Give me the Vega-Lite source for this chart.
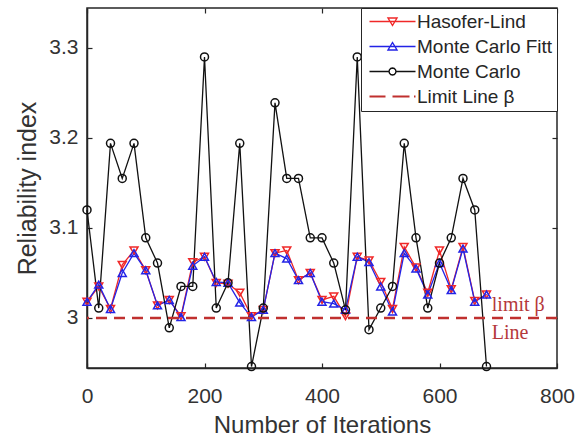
{
  "$schema": "https://vega.github.io/schema/vega-lite/v6.json",
  "width": 470,
  "height": 360,
  "autosize": {"type": "none"},
  "padding": {"left": 87, "top": 8, "right": 26, "bottom": 73},
  "background": "white",
  "datasets": {
    "series": [
      {"iter": 0, "series": "Hasofer-Lind", "value": 3.018},
      {"iter": 20, "series": "Hasofer-Lind", "value": 3.035},
      {"iter": 40, "series": "Hasofer-Lind", "value": 3.010},
      {"iter": 60, "series": "Hasofer-Lind", "value": 3.059},
      {"iter": 80, "series": "Hasofer-Lind", "value": 3.075},
      {"iter": 100, "series": "Hasofer-Lind", "value": 3.053},
      {"iter": 120, "series": "Hasofer-Lind", "value": 3.014},
      {"iter": 140, "series": "Hasofer-Lind", "value": 3.020},
      {"iter": 160, "series": "Hasofer-Lind", "value": 3.002},
      {"iter": 180, "series": "Hasofer-Lind", "value": 3.062},
      {"iter": 200, "series": "Hasofer-Lind", "value": 3.068},
      {"iter": 220, "series": "Hasofer-Lind", "value": 3.039},
      {"iter": 240, "series": "Hasofer-Lind", "value": 3.038},
      {"iter": 260, "series": "Hasofer-Lind", "value": 3.028},
      {"iter": 280, "series": "Hasofer-Lind", "value": 3.002},
      {"iter": 300, "series": "Hasofer-Lind", "value": 3.009},
      {"iter": 320, "series": "Hasofer-Lind", "value": 3.072},
      {"iter": 340, "series": "Hasofer-Lind", "value": 3.075},
      {"iter": 360, "series": "Hasofer-Lind", "value": 3.042},
      {"iter": 380, "series": "Hasofer-Lind", "value": 3.050},
      {"iter": 400, "series": "Hasofer-Lind", "value": 3.020},
      {"iter": 420, "series": "Hasofer-Lind", "value": 3.024},
      {"iter": 440, "series": "Hasofer-Lind", "value": 3.002},
      {"iter": 460, "series": "Hasofer-Lind", "value": 3.068},
      {"iter": 480, "series": "Hasofer-Lind", "value": 3.064},
      {"iter": 500, "series": "Hasofer-Lind", "value": 3.040},
      {"iter": 520, "series": "Hasofer-Lind", "value": 3.010},
      {"iter": 540, "series": "Hasofer-Lind", "value": 3.079},
      {"iter": 560, "series": "Hasofer-Lind", "value": 3.056},
      {"iter": 580, "series": "Hasofer-Lind", "value": 3.028},
      {"iter": 600, "series": "Hasofer-Lind", "value": 3.075},
      {"iter": 620, "series": "Hasofer-Lind", "value": 3.032},
      {"iter": 640, "series": "Hasofer-Lind", "value": 3.079},
      {"iter": 660, "series": "Hasofer-Lind", "value": 3.019},
      {"iter": 680, "series": "Hasofer-Lind", "value": 3.026},
      {"iter": 0, "series": "Monte Carlo Fitt", "value": 3.018},
      {"iter": 20, "series": "Monte Carlo Fitt", "value": 3.037},
      {"iter": 40, "series": "Monte Carlo Fitt", "value": 3.010},
      {"iter": 60, "series": "Monte Carlo Fitt", "value": 3.050},
      {"iter": 80, "series": "Monte Carlo Fitt", "value": 3.072},
      {"iter": 100, "series": "Monte Carlo Fitt", "value": 3.053},
      {"iter": 120, "series": "Monte Carlo Fitt", "value": 3.014},
      {"iter": 140, "series": "Monte Carlo Fitt", "value": 3.020},
      {"iter": 160, "series": "Monte Carlo Fitt", "value": 3.001},
      {"iter": 180, "series": "Monte Carlo Fitt", "value": 3.058},
      {"iter": 200, "series": "Monte Carlo Fitt", "value": 3.068},
      {"iter": 220, "series": "Monte Carlo Fitt", "value": 3.040},
      {"iter": 240, "series": "Monte Carlo Fitt", "value": 3.039},
      {"iter": 260, "series": "Monte Carlo Fitt", "value": 3.017},
      {"iter": 280, "series": "Monte Carlo Fitt", "value": 3.001},
      {"iter": 300, "series": "Monte Carlo Fitt", "value": 3.009},
      {"iter": 320, "series": "Monte Carlo Fitt", "value": 3.072},
      {"iter": 340, "series": "Monte Carlo Fitt", "value": 3.066},
      {"iter": 360, "series": "Monte Carlo Fitt", "value": 3.042},
      {"iter": 380, "series": "Monte Carlo Fitt", "value": 3.050},
      {"iter": 400, "series": "Monte Carlo Fitt", "value": 3.018},
      {"iter": 420, "series": "Monte Carlo Fitt", "value": 3.016},
      {"iter": 440, "series": "Monte Carlo Fitt", "value": 3.009},
      {"iter": 460, "series": "Monte Carlo Fitt", "value": 3.068},
      {"iter": 480, "series": "Monte Carlo Fitt", "value": 3.062},
      {"iter": 500, "series": "Monte Carlo Fitt", "value": 3.035},
      {"iter": 520, "series": "Monte Carlo Fitt", "value": 3.007},
      {"iter": 540, "series": "Monte Carlo Fitt", "value": 3.072},
      {"iter": 560, "series": "Monte Carlo Fitt", "value": 3.055},
      {"iter": 580, "series": "Monte Carlo Fitt", "value": 3.026},
      {"iter": 600, "series": "Monte Carlo Fitt", "value": 3.061},
      {"iter": 620, "series": "Monte Carlo Fitt", "value": 3.031},
      {"iter": 640, "series": "Monte Carlo Fitt", "value": 3.077},
      {"iter": 660, "series": "Monte Carlo Fitt", "value": 3.018},
      {"iter": 680, "series": "Monte Carlo Fitt", "value": 3.026},
      {"iter": 0, "series": "Monte Carlo", "value": 3.120},
      {"iter": 20, "series": "Monte Carlo", "value": 3.011},
      {"iter": 40, "series": "Monte Carlo", "value": 3.194},
      {"iter": 60, "series": "Monte Carlo", "value": 3.155},
      {"iter": 80, "series": "Monte Carlo", "value": 3.194},
      {"iter": 100, "series": "Monte Carlo", "value": 3.089},
      {"iter": 120, "series": "Monte Carlo", "value": 3.061},
      {"iter": 140, "series": "Monte Carlo", "value": 2.989},
      {"iter": 160, "series": "Monte Carlo", "value": 3.035},
      {"iter": 180, "series": "Monte Carlo", "value": 3.035},
      {"iter": 200, "series": "Monte Carlo", "value": 3.290},
      {"iter": 220, "series": "Monte Carlo", "value": 3.011},
      {"iter": 240, "series": "Monte Carlo", "value": 3.039},
      {"iter": 260, "series": "Monte Carlo", "value": 3.194},
      {"iter": 280, "series": "Monte Carlo", "value": 2.946},
      {"iter": 300, "series": "Monte Carlo", "value": 3.011},
      {"iter": 320, "series": "Monte Carlo", "value": 3.239},
      {"iter": 340, "series": "Monte Carlo", "value": 3.155},
      {"iter": 360, "series": "Monte Carlo", "value": 3.155},
      {"iter": 380, "series": "Monte Carlo", "value": 3.089},
      {"iter": 400, "series": "Monte Carlo", "value": 3.089},
      {"iter": 420, "series": "Monte Carlo", "value": 3.061},
      {"iter": 440, "series": "Monte Carlo", "value": 3.009},
      {"iter": 460, "series": "Monte Carlo", "value": 3.290},
      {"iter": 480, "series": "Monte Carlo", "value": 2.987},
      {"iter": 500, "series": "Monte Carlo", "value": 3.011},
      {"iter": 520, "series": "Monte Carlo", "value": 3.035},
      {"iter": 540, "series": "Monte Carlo", "value": 3.194},
      {"iter": 560, "series": "Monte Carlo", "value": 3.089},
      {"iter": 580, "series": "Monte Carlo", "value": 3.011},
      {"iter": 600, "series": "Monte Carlo", "value": 3.061},
      {"iter": 620, "series": "Monte Carlo", "value": 3.089},
      {"iter": 640, "series": "Monte Carlo", "value": 3.155},
      {"iter": 660, "series": "Monte Carlo", "value": 3.120},
      {"iter": 680, "series": "Monte Carlo", "value": 2.946}
    ],
    "notes": [
      {"iter": 689, "value": 3.0144, "label": "limit β"},
      {"iter": 689, "value": 2.983, "label": "Line"}
    ],
    "limit": [
      {"beta": 3, "series": "Limit Line β"}
    ]
  },
  "config": {
    "font": "Liberation Sans",
    "view": {"stroke": "#262626", "strokeWidth": 1.5},
    "axis": {
      "grid": false,
      "domainColor": "#262626",
      "domainWidth": 1.5,
      "tickColor": "#262626",
      "tickWidth": 1.2,
      "labelColor": "#333333",
      "titleColor": "#333333",
      "labelFont": "Liberation Sans",
      "titleFont": "Liberation Sans",
      "titleFontWeight": "normal"
    }
  },
  "resolve": {"axis": {"x": "independent", "y": "independent"}},
  "layer": [
    {
      "data": {"name": "series"},
      "mark": {"type": "line", "strokeWidth": 1.3},
      "encoding": {
        "x": {
          "field": "iter", "type": "quantitative",
          "scale": {"domain": [0, 800], "nice": false, "zero": false},
          "axis": {
            "orient": "bottom", "values": [0, 200, 400, 600, 800],
            "title": "Number of Iterations", "labelFontSize": 21, "titleFontSize": 24,
            "tickSize": -5, "labelPadding": 22, "titlePadding": 7, "labelFlush": false
          }
        },
        "y": {
          "field": "value", "type": "quantitative",
          "scale": {"domain": [2.9444, 3.3444], "nice": false, "zero": false},
          "axis": {
            "orient": "left", "values": [3, 3.1, 3.2, 3.3], "format": "~g",
            "title": "Reliability index", "labelFontSize": 21, "titleFontSize": 25,
            "tickSize": -5, "labelPadding": 14, "titlePadding": 8, "labelFlush": false
          }
        },
        "color": {
          "field": "series", "type": "nominal",
          "scale": {
            "domain": ["Hasofer-Lind", "Monte Carlo Fitt", "Monte Carlo", "Limit Line β"],
            "range": ["#f02828", "#2323e6", "#111111", "#c0302f"]
          },
          "legend": {
            "title": null,
            "orient": "top-right",
            "offset": 0,
            "padding": 4,
            "rowPadding": 5,
            "labelFontSize": 19,
            "labelColor": "#262626",
            "labelFont": "Liberation Sans",
            "labelOffset": 33,
            "symbolSize": 100,
            "strokeColor": "#262626",
            "fillColor": "white",
            "encode": {
              "symbols": {
                "update": {
                  "shape": {"signal": "datum.value == 'Hasofer-Lind' ? 'M-1,0L8.2,0M2.7,-0.7L4.5,-0.7L3.6,0.8Z' : datum.value == 'Monte Carlo Fitt' ? 'M-1,0L8.2,0M2.7,0.7L4.5,0.7L3.6,-0.8Z' : datum.value == 'Monte Carlo' ? 'M-1,0L2.9,0M4.3,0L8.2,0M4.3,0L4.206,0.35L3.95,0.606L3.6,0.7L3.25,0.606L2.994,0.35L2.9,0L2.994,-0.35L3.25,-0.606L3.6,-0.7L3.95,-0.606L4.206,-0.35Z' : 'M-1,0L2.2,0M3.6,0L7,0M7.9,0L8.2,0'"},
                  "fill": {"value": "transparent"},
                  "strokeWidth": {"signal": "datum.value == 'Limit Line β' ? 2.2 : 1.4"},
                  "size": {"value": 100}
                }
              }
            }
          }
        }
      }
    },
    {
      "data": {"name": "series"},
      "mark": {"type": "point", "filled": false, "strokeWidth": 1.5, "opacity": 1},
      "encoding": {
        "x": {"field": "iter", "type": "quantitative", "axis": null},
        "y": {"field": "value", "type": "quantitative", "axis": null},
        "color": {"field": "series", "type": "nominal"},
        "shape": {
          "field": "series", "type": "nominal",
          "scale": {
            "domain": ["Hasofer-Lind", "Monte Carlo Fitt", "Monte Carlo"],
            "range": ["triangle-down", "triangle-up", "circle"]
          },
          "legend": null
        },
        "size": {
          "field": "series", "type": "nominal",
          "scale": {
            "domain": ["Hasofer-Lind", "Monte Carlo Fitt", "Monte Carlo"],
            "range": [64, 64, 85]
          },
          "legend": null
        }
      }
    },
    {
      "data": {"name": "limit"},
      "mark": {"type": "rule", "strokeDash": [11, 7], "strokeWidth": 2.5},
      "encoding": {
        "y": {
          "field": "beta", "type": "quantitative",
          "axis": {"orient": "right", "labels": false, "title": null, "domain": false, "tickSize": -5, "values": [3, 3.1, 3.2, 3.3]}
        },
        "color": {"field": "series", "type": "nominal"}
      }
    },
    {
      "data": {"name": "notes"},
      "mark": {"type": "text", "align": "left", "baseline": "middle", "font": "Liberation Serif", "fontSize": 20, "color": "#b5383a"},
      "encoding": {
        "x": {
          "field": "iter", "type": "quantitative",
          "axis": {"orient": "top", "labels": false, "title": null, "domain": false, "tickSize": -5, "values": [0, 200, 400, 600, 800]}
        },
        "y": {"field": "value", "type": "quantitative", "axis": null},
        "text": {"field": "label"}
      }
    }
  ]
}
